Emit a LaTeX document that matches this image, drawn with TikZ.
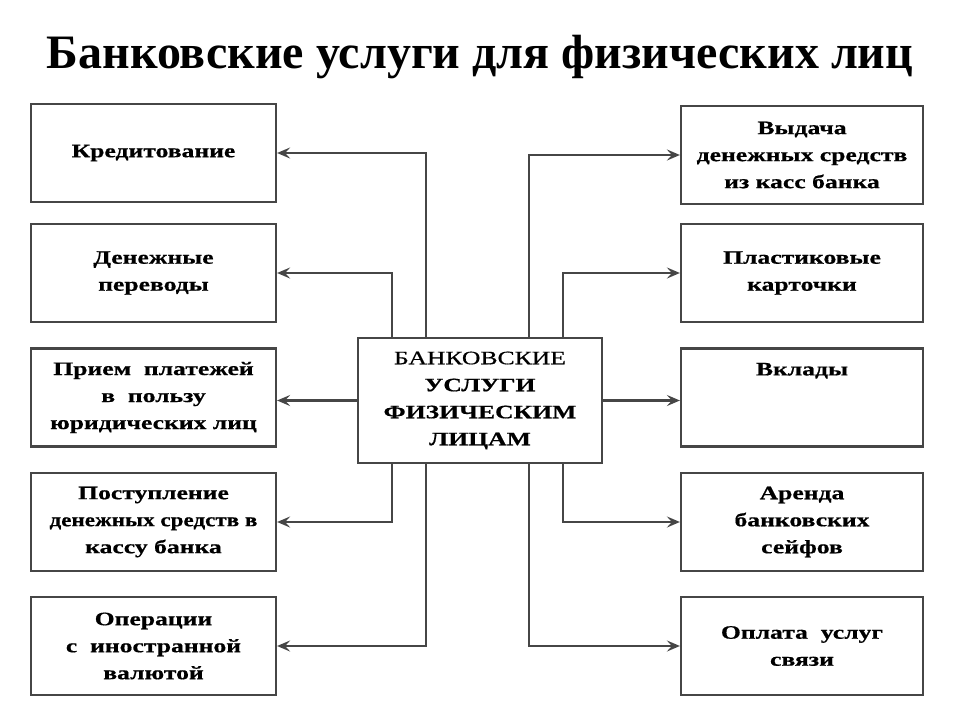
\documentclass[tikz,border=0pt]{standalone}
\usepackage{fontspec}
\usepackage{graphicx}
\setmainfont{Liberation Serif}
\newfontfamily\boxfont[FakeStretch=1.35,FakeBold=0.6]{Liberation Serif}
\usetikzlibrary{arrows.meta}
\definecolor{edge}{RGB}{70,70,70}
\tikzset{
  box/.style={draw=edge, line width=2.2pt, minimum width=245pt, minimum height=98pt,
    inner sep=0pt, align=center, font=\boxfont\bfseries\fontsize{19}{27}\selectfont},
  conn/.style={draw=edge, line width=2.2pt,
    -{Stealth[length=13pt,width=11pt,inset=5pt]}},
  titletext/.style={font=\bfseries\fontsize{48}{52}\selectfont}
}
\begin{document}
\begin{tikzpicture}[x=1pt,y=-1pt]
\useasboundingbox (0,0) rectangle (960,720);
\node[titletext, anchor=base] (title) at (480,68) {Банковские услуги для физических лиц};

% center
\node[box, minimum width=244pt, minimum height=125pt] (c) at (480,400.5)
  {{\mdseries БАНКОВСКИЕ}\\УСЛУГИ\\ФИЗИЧЕСКИМ\\ЛИЦАМ};

% left boxes
\node[box] (L1) at (153.5,153) {Кредитование};
\node[box] (L2) at (153.5,273) {Денежные\\переводы};
\node[box] (L3) at (153.5,397.5) {Прием\ \ платежей\\в\ \ пользу\\юридических лиц};
\node[box] (L4) at (153.5,522) {Поступление\\\scalebox{0.9}[1]{денежных средств в}\\кассу банка};
\node[box] (L5) at (153.5,646) {Операции\\с\ \ иностранной\\валютой};

% right boxes
\node[box, minimum width=242pt] (R1) at (802,155) {Выдача\\денежных средств\\из касс банка};
\node[box, minimum width=242pt] (R2) at (802,273) {Пластиковые\\карточки};
\node[box, minimum width=242pt,
  label={[anchor=north, yshift=-12pt, font=\boxfont\bfseries\fontsize{19}{27}\selectfont]north:Вклады}] (R3) at (802,397.5) {};
\node[box, minimum width=242pt] (R4) at (802,522) {Аренда\\банковских\\сейфов};
\node[box, minimum width=242pt] (R5) at (802,646) {Оплата\ \ услуг\\связи};

% trunk positions
\coordinate (lo) at (426,0);
\coordinate (li) at (392,0);
\coordinate (ro) at (529,0);
\coordinate (ri) at (563,0);

% left connectors
\draw[conn] (lo |- c.north) |- (L1.east);
\draw[conn] (li |- c.north) |- (L2.east);
\draw[conn] (c.west) -- (c.west -| L3.east);
\draw[conn] (li |- c.south) |- (L4.east);
\draw[conn] (lo |- c.south) |- (L5.east);

% right connectors
\draw[conn] (ro |- c.north) |- (R1.west);
\draw[conn] (ri |- c.north) |- (R2.west);
\draw[conn] (c.east) -- (c.east -| R3.west);
\draw[conn] (ri |- c.south) |- (R4.west);
\draw[conn] (ro |- c.south) |- (R5.west);
\end{tikzpicture}
\end{document}
